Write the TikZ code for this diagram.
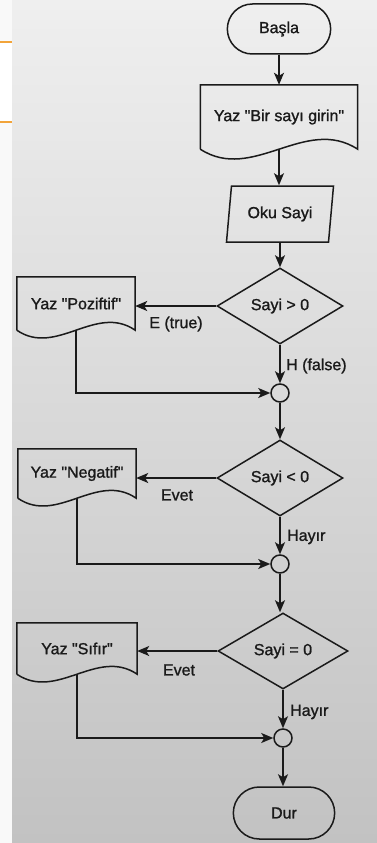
\documentclass[tikz,border=0pt]{standalone}
\usepackage{fontspec}
\setmainfont{Liberation Sans}
\newfontface\heavyface{Liberation Sans}[FakeBold=1.2]
\usetikzlibrary{shapes.geometric,shapes.misc,arrows.meta,calc}
\definecolor{inkc}{HTML}{1A1A1A}
\definecolor{bgtop}{HTML}{EFEFEF}
\definecolor{bgbot}{HTML}{C2C2C2}
\definecolor{pageorange}{HTML}{F2A43A}
\newcommand{\qq}[1]{\textquotedbl#1\textquotedbl}
\begin{document}
\begin{tikzpicture}[x=1pt,y=-1pt,
  font=\heavyface\fontsize{16}{19}\selectfont,
  line/.style={draw=inkc, line width=1.5pt},
  arr/.style={line, -{Stealth[length=12pt,width=10pt,inset=3pt]}},
  term/.style={line, rounded rectangle, minimum width=110pt, minimum height=50pt, text=inkc},
  io/.style={line, trapezium, trapezium left angle=77, trapezium right angle=103,
    trapezium stretches body, minimum width=107pt, minimum height=56pt, text=inkc},
  dec/.style={line, diamond, minimum width=126pt, minimum height=76pt, inner sep=0pt, text=inkc},
  docbox/.style={draw=none, rectangle, inner sep=0pt, text=inkc},
  junc/.style={line, circle, minimum size=18pt, inner sep=0pt},
  lab/.style={inner sep=0pt, text=inkc}]
% background
\fill[top color=bgtop, bottom color=bgbot] (0,0) rectangle (377,843);
\useasboundingbox (0,0) rectangle (377,843);
\fill[white!95!gray] (0,0) rectangle (12,843);
\fill[white] (0,42) rectangle (12,122);
\draw[pageorange, line width=1.2pt] (0,42) -- (12,42) (0,122) -- (12,122);

% main column
\node[term] (start) at (279,29) {Başla};
\node[docbox, minimum width=157pt, minimum height=64pt] (d0) at (279,117) {Yaz \qq{Bir sayı girin}};
\node[io] (oku) at (280,214) {Oku Sayi};
\node[dec] (q1) at (280,306) {Sayi > 0};
\node[junc] (c1) at (280,393) {};
\node[dec] (q2) at (280,478) {Sayi < 0};
\node[junc] (c2) at (280,564) {};
\node[dec, minimum width=130pt] (q3) at (283,651) {Sayi = 0};
\node[junc] (c3) at (283,738) {};
\node[term, minimum width=108pt, minimum height=52pt] (dur) at (284,813) {Dur};

% side documents
\node[docbox, minimum width=118pt, minimum height=53pt] (p1) at (76,303.5) {\raisebox{-3pt}{Yaz \qq{Poziftif}}};
\node[docbox, minimum width=118pt, minimum height=49pt] (p2) at (77,473.5) {\raisebox{-4pt}{Yaz \qq{Negatif}}};
\node[docbox, minimum width=120pt, minimum height=51pt] (p3) at (77,648.5) {\raisebox{-4pt}{Yaz \qq{Sıfır}}};

% document outlines
\foreach \n/\A in {d0/34, p1/27, p2/27, p3/27}{
  \draw[line] (\n.south west) -- (\n.north west) -- (\n.north east) -- (\n.south east)
    .. controls ($(\n.south east)!0.333!(\n.south west)+(0,-\A)$)
           and ($(\n.south east)!0.667!(\n.south west)+(0,\A)$) .. (\n.south west);
}

% labels
\node[lab] (l1) at (176,324) {E (true)};
\node[lab, anchor=west] (l2) at (286,366) {H (false)};
\node[lab] (l3) at (177,495) {Evet};
\node[lab, anchor=west] (l4) at (287,537) {Hayır};
\node[lab] (l5) at (179,670) {Evet};
\node[lab, anchor=west] (l6) at (290,712) {Hayır};

% connectors
\draw[arr] (start.south) -- (start.south |- d0.north);
\draw[arr] (d0.south) -- (d0.south |- oku.north);
\draw[arr] (oku.south) -- (oku.south |- q1.north);
\draw[arr] (q1.south) -- (c1.north);
\draw[arr] (c1.south) -- (q2.north);
\draw[arr] (q2.south) -- (c2.north);
\draw[arr] (c2.south) -- (c2.south |- q3.north);
\draw[arr] (q3.south) -- (c3.north);
\draw[arr] (c3.south) -- (c3.south |- dur.north);

\draw[arr] (q1.west) -- (q1.west -| p1.east);
\draw[arr] (q2.west) -- (q2.west -| p2.east);
\draw[arr] (q3.west) -- (q3.west -| p3.east);

\draw[arr] (p1.south) |- (c1.west);
\draw[arr] (p2.south) |- (c2.west);
\draw[arr] (p3.south) |- (c3.west);
\end{tikzpicture}
\end{document}
